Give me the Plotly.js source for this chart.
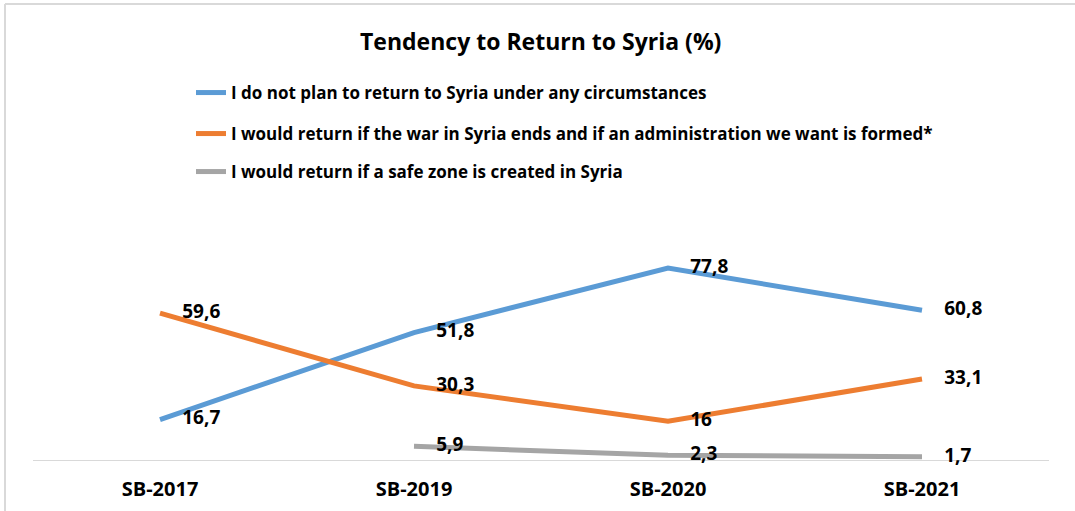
<!DOCTYPE html>
<html>
<head>
<meta charset="utf-8">
<script src="https://cdn.plot.ly/plotly-3.0.1.min.js"></script>
<style>
  html, body { margin: 0; padding: 0; background: #fff; }
  #chart { width: 1075px; height: 511px; }
</style>
</head>
<body>
<div id="chart"></div>
<script>
// Survey rounds
const waves = ['SB-2017', 'SB-2019', 'SB-2020', 'SB-2021'];

// Series (%)
const neverReturn = [16.7, 51.8, 77.8, 60.8];
const returnIfWarEnds = [59.6, 30.3, 16, 33.1];
const returnIfSafeZone = [null, 5.9, 2.3, 1.7];

const seriesNames = [
  'I do not plan to return to Syria under any circumstances',
  'I would return if the war in Syria ends and if an administration we want is formed*',
  'I would return if a safe zone is created in Syria'
];

const FONT = '"Open Sans", Lato, sans-serif';
const colors = ['#5B9BD5', '#ED7D31', '#A5A5A5'];
const legendRows = [93, 134, 172]; // pixel rows of legend entries

// plot area in pixels
const plotL = 33, plotR = 1049, plotT = 213, plotB = 461;
const plotW = plotR - plotL, plotH = plotB - plotT;
const px2x = px => (px - plotL) / plotW;
const py2y = py => (plotB - py) / plotH;

const allSeries = [neverReturn, returnIfWarEnds, returnIfSafeZone];

const traces = allSeries.map((vals, i) => ({
  x: waves,
  y: vals,
  name: seriesNames[i],
  type: 'scatter',
  mode: 'lines+markers+text',
  line: { color: colors[i], width: 5 },
  marker: { size: 34, opacity: 0, color: 'rgba(0,0,0,0)', line: { width: 0 } },
  texttemplate: '%{y}',
  textposition: 'middle right',
  textfont: { family: FONT, size: 19, color: '#000', weight: 'bold' },
  cliponaxis: false,
  connectgaps: false,
  hoverinfo: 'x+y',
  legend: i === 0 ? 'legend' : 'legend' + (i + 1)
}));

const legendBase = {
  x: px2x(191),
  xanchor: 'left',
  yanchor: 'middle',
  bgcolor: 'rgba(0,0,0,0)',
  font: { family: FONT, size: 17, color: '#000', weight: 'bold' },
  itemclick: false
};

const layout = {
  width: 1075,
  height: 511,
  separators: ',.',
  title: {
    text: '<b>Tendency to Return to Syria (%)</b>',
    font: { family: FONT, size: 23, color: '#000' },
    xref: 'container',
    x: 0.503,
    y: 1 - 42 / 511,
    yanchor: 'middle'
  },
  xaxis: {
    type: 'category',
    range: [-0.5, 3.5],
    showgrid: false,
    zeroline: false,
    showline: false,
    ticks: '',
    tickfont: { family: FONT, size: 20, color: '#000', weight: 'bold' },
    ticklabelstandoff: 14
  },
  yaxis: {
    range: [0, 100],
    visible: false,
    showgrid: false,
    zeroline: false
  },
  shapes: [
    // horizontal axis line
    { type: 'line', xref: 'paper', yref: 'y', x0: 0, x1: 1, y0: 0, y1: 0,
      line: { color: '#D9D9D9', width: 2 }, layer: 'below' },
    // frame: left and top edges
    { type: 'line', xref: 'paper', yref: 'paper', x0: px2x(5), x1: px2x(5), y0: py2y(4), y1: py2y(520),
      line: { color: '#D9D9D9', width: 2 } },
    { type: 'line', xref: 'paper', yref: 'paper', x0: px2x(5), x1: px2x(1080), y0: py2y(4), y1: py2y(4),
      line: { color: '#D9D9D9', width: 2 } }
  ],
  showlegend: true,
  legend: Object.assign({}, legendBase, { y: py2y(legendRows[0]) }),
  legend2: Object.assign({}, legendBase, { y: py2y(legendRows[1]) }),
  legend3: Object.assign({}, legendBase, { y: py2y(legendRows[2]) }),
  margin: { l: plotL, r: 1075 - plotR, t: plotT, b: 511 - plotB, pad: 0 },
  plot_bgcolor: '#FFFFFF',
  paper_bgcolor: '#FFFFFF'
};

Plotly.newPlot('chart', traces, layout, { displayModeBar: false, staticPlot: true });
</script>
</body>
</html>
